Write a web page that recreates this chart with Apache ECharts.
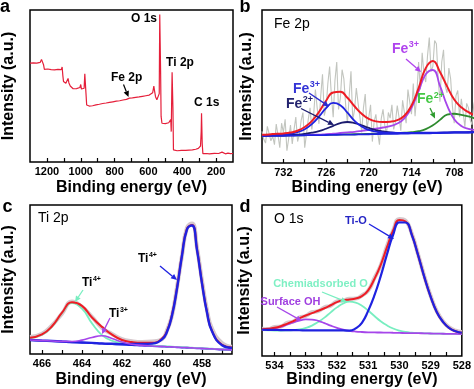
<!DOCTYPE html>
<html><head><meta charset="utf-8">
<script src="https://cdn.jsdelivr.net/npm/echarts@6/dist/echarts.min.js"></script>
<style>html,body{margin:0;padding:0;background:#fff}#c{width:474px;height:389px}</style>
</head><body><div id="c"></div>
<script>
// ---------- Panel a: survey ----------
const surveyE = [1300,1290,1280,1270,1260,1250,1240,1232,1226,1220,
  1215,1205,1195,1185,1175,1165,1155,1145,1135,1125,
  1115,1110,1106,1102,1095,1088,1080,1075,1070,1062,
  1055,1045,1035,1025,1015,1005,1000,996,990,985,
  980,976,973,969,965,960,950,940,930,920,
  910,900,890,880,870,860,850,840,830,820,
  810,800,790,780,770,760,750,740,730,720,
  712,705,695,685,675,665,655,645,635,625,
  615,605,595,585,575,568,564,558,550,545,
  540,536,533,531,528,525,520,510,500,490,
  480,472,468,465,462,460,457,455,452,445,
  430,420,405,400,395,380,360,340,320,305,
  298,292,288,286,284,282,278,270,255,240,
  225,210,200,185,175,165,160,145,130,115,100];
const surveyI = [65,64.5,65.2,64.4,65,64.6,65.5,67.5,66.8,64,
  61,60.5,61.2,60.3,60.8,60.2,60.6,60.1,60.9,60.4,
  60.8,62.5,57,53,52.5,51.8,52.5,55,52,50,
  48.7,48.2,48.8,48.3,48.6,49,51,48,47.5,47.8,
  48.5,58,57.5,45,37.5,36.4,36.8,36.3,37,37.2,
  37.6,37.4,38,37.8,38.5,38.2,38.8,38.6,39.2,39,
  39.6,39.4,40,39.8,40.3,40.1,40.8,40.6,41.2,41,
  42,41.4,42.2,41.8,42.5,42.3,42.8,42.6,43.2,43,
  43.6,43.4,44,44.2,45.5,50,47,43,41,40.5,
  40.2,45,97,97,60,30,25.5,25,25.3,25,
  25.8,25.5,28,20,45,59,58.5,35,8,7.2,
  7.4,7.1,7.6,8.3,7.5,7.6,7.8,8,8.4,9,
  10,10.5,20,32,31,12,5.5,5.2,5.6,5.3,
  5.5,5.7,5.4,5.6,5.3,6.5,5.6,5.4,5.8,5.5,5.6];
const surveyTicks = [1200,1000,800,600,400,200];

// ---------- Panel b: Fe 2p ----------
const feE = [735,734,733,732,731,730,729,728,727,726,725,724,723,722,721,720,719,718,717,716,715,714,713,712,711,710,709,708,707,706,705];
const feEnvelope = [18.5,18.7,19.1,19.3,19.9,21.1,23.5,27.4,33.3,40.7,46.1,46.5,42.6,37.1,32.2,28.8,27.2,26.8,27.0,28.0,30.9,37.5,49.0,62.0,66.6,59.5,50.1,41.5,36.4,33.2,30.9];
const feFe3a = [18.1,18.3,18.5,18.7,19.2,20.2,22.1,25.4,30.3,35.9,39.3,37.8,32.9,27.6,23.8,21.6,20.5,20.0,19.8,19.7,19.7,19.7,19.8,19.8,19.9,19.9,20.0,20.1,20.1,20.1,20.2];
const feFe2a = [17.8,17.9,18.1,18.1,18.3,18.6,19.1,19.8,20.8,22.4,24.3,26.0,26.8,26.1,24.6,22.9,21.5,20.6,20.0,19.7,19.6,19.6,19.7,19.6,19.7,19.8,19.9,20.0,20.0,20.1,20.2];
const feFe3b = [17.7,17.8,18.0,18.0,18.1,18.2,18.4,18.5,18.5,18.9,19.2,19.6,20.0,20.4,21.0,21.7,22.4,23.2,24.1,25.8,29.2,36.0,46.9,58.0,60.8,50.4,37.7,28.6,24.2,22.3,21.6];
const feFe2b = [17.7,17.8,17.9,17.9,18.0,18.1,18.2,18.3,18.3,18.4,18.5,18.6,18.7,18.8,18.9,19.0,19.1,19.3,19.4,19.6,19.8,20.1,20.8,22.1,24.6,28.2,31.6,32.2,31.5,30.4,28.9];
const feBackground = [17.6,17.7,17.8,17.8,17.9,18.0,18.1,18.2,18.2,18.3,18.4,18.5,18.6,18.6,18.7,18.8,18.9,19.0,19.0,19.1,19.2,19.3,19.4,19.4,19.5,19.6,19.7,19.8,19.8,19.9,20.0];
const feRawE = [735,734.75,734.5,734.25,734,733.75,733.5,733.25,733,732.75,732.5,732.25,732,731.75,731.5,731.25,731,730.75,730.5,730.25,
  730,729.75,729.5,729.25,729,728.75,728.5,728.25,728,727.75,727.5,727.25,727,726.75,726.5,726.25,726,725.75,725.5,725.25,
  725,724.75,724.5,724.25,724,723.75,723.5,723.25,723,722.75,722.5,722.25,722,721.75,721.5,721.25,721,720.75,720.5,720.25,
  720,719.75,719.5,719.25,719,718.75,718.5,718.25,718,717.75,717.5,717.25,717,716.75,716.5,716.25,716,715.75,715.5,715.25,
  715,714.75,714.5,714.25,714,713.75,713.5,713.25,713,712.75,712.5,712.25,712,711.75,711.5,711.25,711,710.75,710.5,710.25,
  710,709.75,709.5,709.25,709,708.75,708.5,708.25,708,707.75,707.5,707.25,707,706.75,706.5,706.25,706,705.75,705.5,705.25,705];
const feRaw = [20.6,15.5,13.0,24.0,22.9,14.5,17.5,12.0,25.4,18.0,10.0,26.0,20.0,28.5,8.0,16.0,24.8,12.5,21.9,30.0,
  14.0,18.5,27.9,33.0,10.0,19.0,28.6,36.0,22.0,31.0,48.0,36.0,25.6,44.0,58.0,31.0,36.0,52.0,63.0,44.0,
  30.0,54.0,66.0,35.0,42.1,61.0,55.0,38.0,26.0,44.0,60.0,28.0,34.9,49.0,39.0,30.0,20.0,36.0,45.0,22.0,
  29.9,38.0,14.0,27.0,31.8,20.0,12.0,29.0,35.1,24.5,19.2,33.0,29.3,38.0,21.9,27.0,37.5,30.0,21.1,41.0,
  33.1,26.0,48.0,40.0,31.9,52.0,30.6,45.0,66.0,48.0,72.0,58.0,52.9,70.0,82.0,60.0,63.1,80.0,78.0,55.0,
  40.0,66.0,74.0,50.0,45.9,62.0,55.0,37.0,26.0,44.0,47.4,30.0,42.0,33.0,23.6,39.0,36.0,28.0,25.0,38.0,43.5];
const feTicks = [732,726,720,714,708];

// ---------- Panel c: Ti 2p ----------
const tiE = [466.6,466,465.5,465,464.5,464,463.5,463,462.5,462,461.5,461,460.5,460,459.75,459.5,459.25,459,458.75,458.5,458.25,458,457.75,457.5,457,456.5];
const tiBackground = [9.3,8.9,8.6,8.25,7.9,7.6,7.3,6.9,6.6,6.3,6.0,5.6,5.3,5.0,4.8,4.7,4.5,4.3,4.2,4.0,3.8,3.7,3.5,3.4,3.0,2.7];
const tiEnvelope = [10.9,13.1,18.6,27.7,34.7,32.3,24.5,18.2,13.0,9.4,8.0,7.5,7.5,10.3,15.4,26.3,44.3,66.5,84.1,86.6,70.3,47.7,28.1,15.5,6.2,4.4];
const tiRaw = [11.4,13.6,19.2,27.1,35.2,31.6,24.9,17.5,13.5,9.9,8.6,8.1,8.4,9.9,15.9,25.8,44.9,66.0,84.8,87.6,71.3,49.2,29.6,17.0,7.4,4.9];
const tiTi4a = [10.7,12.9,18.4,27.35,34.1,30.4,20.55,12.7,8.9,7.4,6.75,6.1,5.7,5.3,5.1,4.95,4.75,4.55,4.4,4.2,4.0,3.9,3.7,3.6,3.2,2.9];
const tiTi3 = [9.35,9.0,8.7,8.45,8.4,9.3,11.1,12.2,10.4,8.0,6.5,5.8,5.4,5.1,4.9,4.8,4.6,4.4,4.3,4.1,3.9,3.8,3.6,3.5,3.1,2.8];
const tiTi4b = [9.4,9.0,8.7,8.35,8.0,7.75,7.45,7.1,6.85,6.6,6.7,6.7,7.0,9.8,14.9,25.9,43.9,66.1,83.7,86.2,69.9,47.4,27.8,15.2,5.9,4.1];
const tiTicks = [466,464,462,460,458];

// ---------- Panel d: O 1s ----------
const oE = [534.4,534.2,534,533.8,533.6,533.4,533.2,533,532.8,532.6,532.4,532.2,532,531.8,531.6,531.4,531.2,531,530.8,530.6,530.4,530.2,530,529.8,529.6,529.4,529.2,529,528.8,528.6,528.4,528.2,528];
const oEnvelope = [17.7,18.0,18.65,19.75,21.3,23.1,24.95,26.8,28.35,30.0,31.6,33.6,35.7,37.05,37.45,38.1,39.6,43.5,51.0,60.25,71.9,83.1,90.0,89.1,80.35,66.8,52.2,39.4,29.0,22.55,18.45,16.4,15.4];
const oRaw = [18.1,17.8,19.2,19.5,21.9,22.8,25.4,26.5,29.0,29.7,32.2,33.3,36.2,36.8,37.9,38.0,40.1,43.3,51.5,60.0,72.5,83.0,90.8,89.6,80.9,67.2,52.8,39.9,29.6,22.9,18.9,16.8,15.9];
const oTiO = [17.4,17.3,17.25,17.2,17.2,17.1,17.05,17.0,16.95,17.0,17.0,17.0,17.0,16.95,16.8,18.3,22.0,29.9,40.1,52.75,67.1,80.3,88.5,88.4,80.05,66.7,52.2,39.4,29.0,22.55,18.45,16.4,15.4];
const oChem = [17.1,17.0,16.9,16.9,17.0,17.2,17.6,18.6,20.15,22.5,25.4,28.9,32.2,34.75,35.95,35.4,33.3,30.1,26.5,23.05,20.3,18.2,16.8,15.9,15.45,15.2,15.05,14.9,14.8,14.75,14.65,14.6,14.5];
const oOH = [17.4,17.7,18.3,19.35,20.7,22.2,23.5,24.2,24.15,23.3,21.8,20.1,18.6,17.45,16.7,16.2,15.9,15.7,15.6,15.55,15.5,15.4,15.3,15.2,15.15,15.1,15.0,14.9,14.8,14.75,14.65,14.6,14.5];
const oTicks = [534,533,532,531,530,529,528];

// ---------- styling ----------
const FONT = '"Liberation Sans", Arial, sans-serif';
const C = {red:'#ee1c25', survey:'#e51f3a', blue:'#1f22e0', navy:'#1c1c6e', violet:'#a646ea', green:'#2e8b2e', aqua:'#78eec0', gray:'#c2c5bf', halo:'#d6c8cc'};
const zip = (xs, ys) => xs.map((x, i) => [x, ys[i]]);

const grids = [
  {left:29, top:10, width:204, height:152},
  {left:262, top:10, width:210, height:153},
  {left:29, top:205, width:203, height:150},
  {left:262, top:205, width:207, height:152}
].map(g => Object.assign(g, {show:true, borderColor:'#000', borderWidth:1.5, backgroundColor:'transparent'}));

function xAx(gi, min, max, labels, ticks, gap, margin){
  return {type:'value', gridIndex:gi, min, max, inverse:true,
    axisLine:{show:false}, splitLine:{show:false},
    axisTick:{show:true, inside:true, length:4, customValues:ticks, lineStyle:{color:'#000', width:1.2}},
    axisLabel:{show:true, customValues:labels, margin, color:'#000', fontSize:11, fontWeight:'bold', fontFamily:FONT,
      formatter:v => String(v)},
    name:'Binding energy (eV)', nameLocation:'middle', nameGap:gap,
    nameTextStyle:{fontSize:16, fontWeight:'bold', color:'#000', fontFamily:FONT}};
}
function yAx(gi, gap){
  return {type:'value', gridIndex:gi, min:0, max:100,
    axisLine:{show:false}, axisTick:{show:false}, axisLabel:{show:false}, splitLine:{show:false},
    name:'Intensity (a.u.)', nameLocation:'middle', nameGap:gap, nameRotate:90,
    nameTextStyle:{fontSize:16, fontWeight:'bold', color:'#000', fontFamily:FONT}};
}
function L(gi, xs, ys, color, width, smooth){
  return {type:'line', xAxisIndex:gi, yAxisIndex:gi, data:zip(xs, ys), showSymbol:false, symbol:'none',
    smooth:smooth, lineStyle:{color, width}, silent:true, animation:false, clip:true};
}

const series = [
  L(0, surveyE, surveyI, C.survey, 1.2, false),

  L(1, feRawE, feRaw, C.gray, 1.1, false),
  L(1, feE, feFe2b, C.green, 1.8, true),
  L(1, feE, feFe3b, C.violet, 1.8, true),
  L(1, feE, feFe2a, C.navy, 1.8, true),
  L(1, feE, feFe3a, C.blue, 1.8, true),
  L(1, feE, feBackground, C.blue, 1.8, true),
  L(1, feE, feEnvelope, C.red, 2, true),

  L(2, tiE, tiRaw, C.halo, 4, true),
  L(2, tiE, tiBackground, C.blue, 1.8, true),
  L(2, tiE, tiTi4a, C.aqua, 1.8, true),
  L(2, tiE, tiEnvelope, C.red, 2, true),
  L(2, tiE, tiTi4b, C.blue, 2.4, true),
  L(2, tiE, tiTi3, C.violet, 1.6, true),

  L(3, oE, oRaw, C.halo, 4, true),
  L(3, oE, oChem, C.aqua, 1.8, true),
  L(3, oE, oOH, C.violet, 1.8, true),
  L(3, oE, oEnvelope, C.red, 2, true),
  L(3, oE, oTiO, C.blue, 2.2, true)
];

// ---------- annotations ----------
const mctx = document.createElement('canvas').getContext('2d');
function tw(text, size, weight){ mctx.font = (weight||'normal') + ' ' + size + 'px ' + FONT; return mctx.measureText(text).width; }
function T(x, y, text, o){
  o = o || {};
  return {type:'text', x, y, z:100, style:{text, fill:o.color||'#000', fontSize:o.size||12, fontWeight:o.weight||'normal',
    fontFamily:FONT, align:o.align||'center', verticalAlign:'middle'}};
}
function SUP(x, y, base, sup, color, size, weight){
  const w = tw(base, size, weight);
  return [T(x, y, base, {color, size, weight, align:'left'}),
          T(x + w + 0.5, y - size*0.32, sup, {color, size:Math.round(size*0.62), weight, align:'left'})];
}
function ARROW(x1, y1, x2, y2, color, lw){
  const a = Math.atan2(y2 - y1, x2 - x1), Lh = 6, W = 2.8;
  const bx = x2 - Lh*Math.cos(a), by = y2 - Lh*Math.sin(a);
  const px = -Math.sin(a)*W, py = Math.cos(a)*W;
  return [{type:'line', z:100, shape:{x1, y1, x2:bx, y2:by}, style:{stroke:color, lineWidth:lw||1.3}},
          {type:'polygon', z:100, shape:{points:[[x2, y2], [bx+px, by+py], [bx-px, by-py]]}, style:{fill:color}}];
}

const graphics = [].concat(
  T(5, 6.7, 'a', {size:18, weight:'bold'}),
  T(245, 7.5, 'b', {size:18, weight:'bold'}),
  T(7.5, 206.7, 'c', {size:18, weight:'bold'}),
  T(245, 206.7, 'd', {size:18, weight:'bold'}),

  T(144, 18.5, 'O 1s', {size:12, weight:'bold'}),
  T(180, 63, 'Ti 2p', {size:12, weight:'bold'}),
  T(206.7, 103, 'C 1s', {size:12, weight:'bold'}),
  T(126.7, 77.5, 'Fe 2p', {size:12, weight:'bold'}),
  ARROW(123.5, 84.5, 128.5, 97, '#000', 1.2),

  T(274, 24.5, 'Fe 2p', {size:14, align:'left'}),
  SUP(392, 49, 'Fe', '3+', '#b044ee', 14, 'bold'),
  ARROW(406, 59, 421, 72, '#b044ee'),
  SUP(293, 89, 'Fe', '3+', '#3434d6', 14, 'bold'),
  ARROW(309, 93, 329, 106.5, '#2a2ad0'),
  SUP(286, 104, 'Fe', '2+', '#23236e', 14, 'bold'),
  ARROW(301, 108.5, 334, 125, '#1c1c6e'),
  SUP(417, 99.5, 'Fe', '2+', '#44c844', 14, 'bold'),
  ARROW(430, 108, 435, 118.5, '#2e9b2e'),

  T(38, 218, 'Ti 2p', {size:14, align:'left'}),
  SUP(138, 258.5, 'Ti', '4+', '#000', 12, 'bold'),
  ARROW(160, 266, 177, 280, C.blue),
  SUP(82, 283, 'Ti', '4+', '#000', 12, 'bold'),
  ARROW(83, 290, 75, 302, C.aqua),
  SUP(109, 313.5, 'Ti', '3+', '#000', 12, 'bold'),
  ARROW(110, 318, 102, 334, C.violet),

  T(274, 219, 'O 1s', {size:14, align:'left'}),
  T(356, 221, 'Ti-O', {size:11, weight:'bold', color:'#2424c4'}),
  ARROW(369, 224, 394, 239, C.blue),
  T(320.5, 284.3, 'Chemiadsorbed O', {size:11, weight:'bold', color:'#7ff0c4'}),
  ARROW(322, 292, 347, 302, C.aqua),
  T(290.5, 302.3, 'Surface OH', {size:11, weight:'bold', color:'#a040e0'}),
  ARROW(277, 307, 302, 321, C.violet)
);

const chart = echarts.init(document.getElementById('c'), null, {renderer:'canvas'});
chart.setOption({
  animation:false,
  backgroundColor:'#fff',
  grid:grids,
  xAxis:[
    xAx(0, 100, 1300, surveyTicks, [1200,1100,1000,900,800,700,600,500,400,300,200], 18, 4),
    xAx(1, 705.5, 735, feTicks, [732,729,726,723,720,717,714,711,708], 17, 4),
    xAx(2, 456.5, 466.6, tiTicks, [466,465,464,463,462,461,460,459,458,457], 18, 4),
    xAx(3, 528, 534.4, oTicks, [534,533.5,533,532.5,532,531.5,531,530.5,530,529.5,529,528.5], 16, 4)
  ],
  yAxis:[yAx(0, 13), yAx(1, 7), yAx(2, 13), yAx(3, 9)],
  series,
  graphic:graphics
});
</script>
</body></html>
